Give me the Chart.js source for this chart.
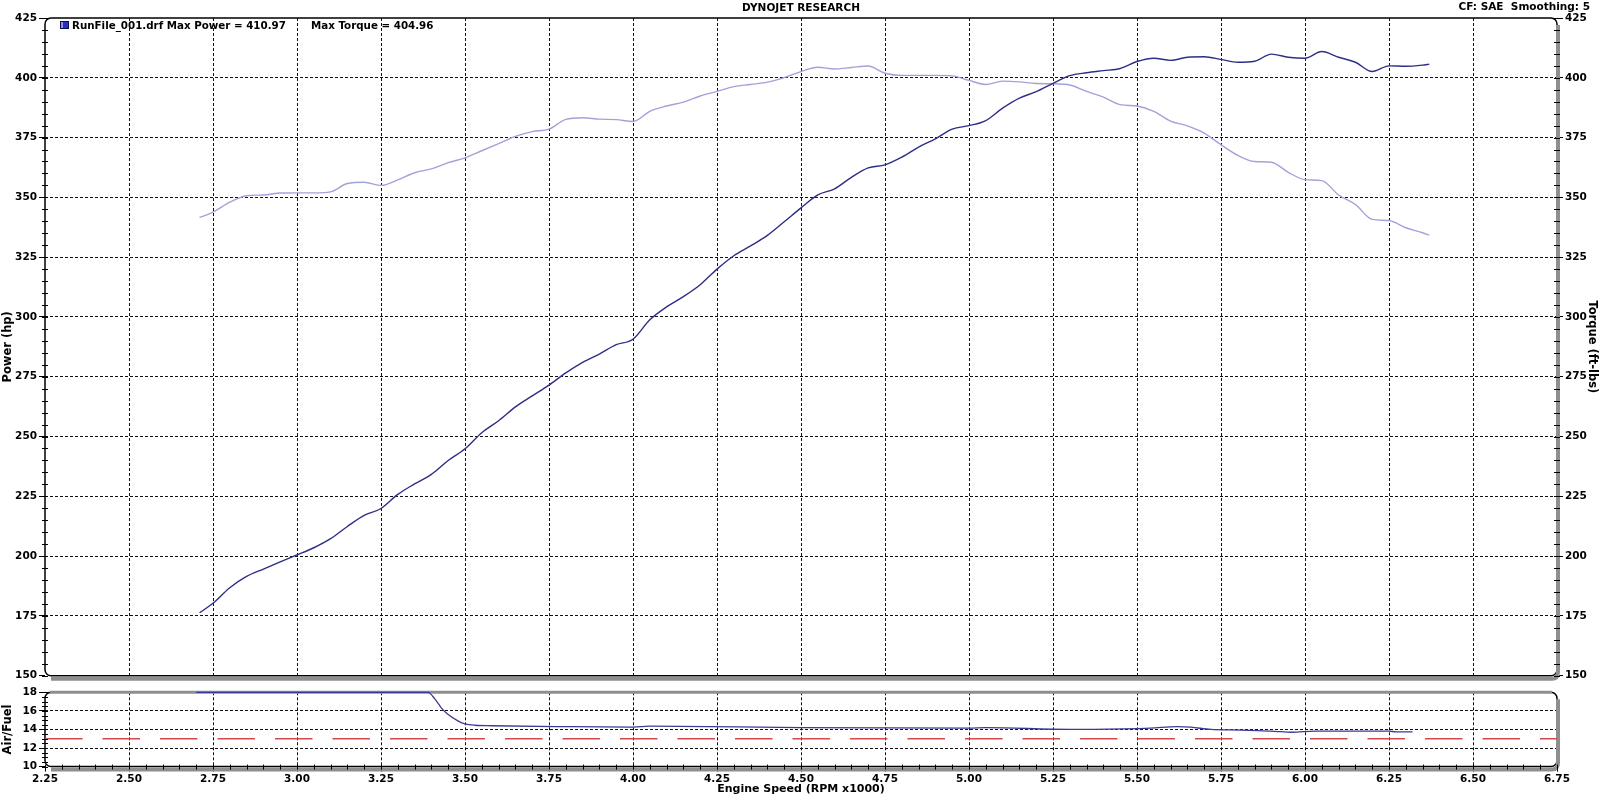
<!DOCTYPE html>
<html>
<head>
<meta charset="utf-8">
<title>Dynojet Research</title>
<script src="https://cdn.jsdelivr.net/npm/chart.js@4.4.1/dist/chart.umd.min.js"></script>
<style>
  html, body { margin: 0; padding: 0; background: #fff; overflow: hidden; }
  #wrap { position: relative; width: 1600px; height: 796px; }
  canvas { position: absolute; left: 0; }
  #main { top: 0; width: 1600px; height: 684px; }
  #af { top: 684px; width: 1600px; height: 112px; }
</style>
</head>
<body>
<div id="wrap">
  <canvas id="main" width="1600" height="684"></canvas>
  <canvas id="af" width="1600" height="112"></canvas>
</div>
<script>
// ─── DATOS ──────────────────────────────────────────────────────
const rpm = [
  2.71, 2.75, 2.80, 2.85, 2.90, 2.95, 3.00, 3.05, 3.10, 3.15,
  3.20, 3.25, 3.30, 3.35, 3.40, 3.45, 3.50, 3.55, 3.60, 3.65,
  3.70, 3.75, 3.80, 3.85, 3.90, 3.95, 4.00, 4.05, 4.10, 4.15,
  4.20, 4.25, 4.30, 4.35, 4.40, 4.45, 4.50, 4.55, 4.60, 4.65,
  4.70, 4.75, 4.80, 4.85, 4.90, 4.95, 5.00, 5.05, 5.10, 5.15,
  5.20, 5.25, 5.30, 5.35, 5.40, 5.45, 5.50, 5.55, 5.60, 5.65,
  5.70, 5.75, 5.80, 5.85, 5.90, 5.95, 6.00, 6.05, 6.10, 6.15,
  6.20, 6.25, 6.30, 6.35, 6.37,
];

const power = [
  176.3, 180.3, 186.8, 191.5, 194.6, 197.6, 200.5, 203.5, 207.3, 212.4,
  217.0, 219.9, 225.8, 230.2, 234.2, 240.0, 244.9, 251.6, 256.6, 262.4,
  267.0, 271.5, 276.6, 281.0, 284.5, 288.4, 290.7, 298.8, 304.2, 308.5,
  313.5, 320.0, 325.6, 329.7, 334.1, 339.8, 345.6, 351.0, 353.6, 358.4,
  362.3, 363.6, 366.8, 371.0, 374.5, 378.5, 380.0, 382.1, 387.3, 391.5,
  394.2, 397.7, 400.9, 402.1, 403.0, 403.9, 406.8, 408.2, 407.3, 408.6,
  408.8, 407.7, 406.5, 406.9, 409.9, 408.6, 408.2, 411.0, 408.6, 406.5,
  402.6, 405.0, 404.8, 405.3, 405.7,
];

const torque = [
  341.6, 343.8, 348.0, 350.7, 351.0, 351.8, 351.9, 351.9, 352.3, 355.8,
  356.3, 355.0, 357.3, 360.3, 361.9, 364.5, 366.5, 369.5, 372.5, 375.5,
  377.5, 378.5, 382.6, 383.3, 382.7, 382.5, 381.7, 386.0, 388.2, 389.8,
  392.4, 394.3, 396.3, 397.2, 398.2, 400.1, 402.6, 404.4, 403.7, 404.3,
  404.9, 401.9, 401.0, 401.0, 401.0, 400.8, 398.9, 397.2, 398.6, 398.3,
  397.6, 397.5, 397.0, 394.3, 391.9, 388.8, 388.2, 386.0, 381.9, 379.9,
  376.9, 372.0, 367.6, 365.0, 364.7, 360.5, 357.4, 357.0, 351.0, 347.0,
  340.8, 340.3, 337.3, 335.2, 334.2,
];

const afRpm = [
  2.70, 3.39, 3.41, 3.43, 3.45, 3.48, 3.50, 3.53, 3.58, 3.80,
  4.00, 4.05, 4.50, 5.00, 5.05, 5.30, 5.46, 5.54, 5.62, 5.66,
  5.72, 5.81, 5.91, 5.96, 6.03, 6.25, 6.27, 6.32,
];
const afRatio = [
  18.0, 18.0, 17.3, 16.3, 15.6, 14.9, 14.6, 14.45, 14.4, 14.3,
  14.25, 14.35, 14.2, 14.15, 14.2, 14.0, 14.07, 14.15, 14.3, 14.25,
  14.0, 13.93, 13.8, 13.7, 13.83, 13.83, 13.73, 13.73,
];
const afTarget = 13;

const rpmRange = [2.25, 6.75];
const powerRange = [150, 425];
const afRange = [10, 18];

const runLabel = "RunFile_001.drf Max Power = 410.97";
const torqueLabel = "Max Torque = 404.96";

// ─── ESTILO ─────────────────────────────────────────────────────
const C = {
  power:  "#2e2e86",
  torque: "#a2a2da",
  af:     "#3a3a98",
  target: "#d24a4a",
  grid:   "#111111",
  shadow: "#8e8e8e",
};
const FONT = "'DejaVu Sans', Verdana, sans-serif";
Chart.defaults.font.family = FONT;
Chart.defaults.color = "#000";

const tickFont = { size: 10.5, weight: "bold" };
const titleFont = { size: 11.5, weight: "bold" };
const noEdge = (lo, hi) => c => (c.tick && (c.tick.value === lo || c.tick.value === hi)) ? "rgba(0,0,0,0)" : C.grid;

// ─── PLUGINS ────────────────────────────────────────────────────
const panelFrame = {
  id: "panelFrame",
  beforeDatasetsDraw(chart, args, opts) {
    const { ctx, chartArea: a } = chart;
    ctx.save();
    ctx.strokeStyle = "#000";
    ctx.lineWidth = 1.5;
    ctx.beginPath();
    ctx.roundRect(a.left, a.top, a.right - a.left, a.bottom - a.top, 6);
    ctx.stroke();
    // sombra gris a la derecha y abajo
    ctx.strokeStyle = C.shadow;
    ctx.lineWidth = 4;
    ctx.beginPath();
    ctx.moveTo(a.right + 1, a.top + 7);
    ctx.lineTo(a.right + 1, a.bottom - 4);
    ctx.quadraticCurveTo(a.right + 1, a.bottom + 3, a.right - 5, a.bottom + 3);
    ctx.lineTo(a.left + 6, a.bottom + 3);
    ctx.stroke();
    if (opts.grayTop) {
      ctx.lineWidth = 3;
      ctx.beginPath();
      ctx.moveTo(a.left + 5, a.top);
      ctx.lineTo(a.right - 5, a.top);
      ctx.stroke();
    }
    ctx.restore();
  },
};

const minorTicks = {
  id: "minorTicks",
  afterDraw(chart, args, opts) {
    const ctx = chart.ctx;
    ctx.save();
    ctx.strokeStyle = "#000";
    ctx.lineWidth = 1;
    (opts.list || []).forEach(m => {
      const s = chart.scales[m.scale];
      const n = Math.round((s.max - s.min) / m.step);
      ctx.beginPath();
      for (let i = 0; i <= n; i++) {
        const p = Math.round(s.getPixelForValue(s.min + i * m.step)) + 0.5;
        if (m.side === "left") { ctx.moveTo(s.right - 3, p); ctx.lineTo(s.right + 3, p); }
        if (m.side === "right") { ctx.moveTo(s.left - 3, p); ctx.lineTo(s.left + 3, p); }
        if (m.side === "bottom") { ctx.moveTo(p, s.top - 2); ctx.lineTo(p, s.top + 3); }
      }
      ctx.stroke();
    });
    ctx.restore();
  },
};

const headerText = {
  id: "headerText",
  afterDraw(chart) {
    const { ctx, chartArea: a } = chart;
    ctx.save();
    ctx.font = "bold 10.5px " + FONT;
    ctx.fillStyle = "#000";
    ctx.textBaseline = "middle";
    ctx.textAlign = "center";
    ctx.fillText("DYNOJET RESEARCH", 801, 8);
    ctx.textAlign = "right";
    ctx.fillText("CF: SAE  Smoothing: 5", 1590, 7);
    // leyenda
    ctx.fillStyle = "#2c2cc8";
    ctx.fillRect(a.left + 15, a.top + 3, 9, 8);
    ctx.fillStyle = "#8f8ff0";
    ctx.fillRect(a.left + 16, a.top + 4, 2, 6);
    ctx.strokeStyle = "#10104a";
    ctx.lineWidth = 1;
    ctx.strokeRect(a.left + 15.5, a.top + 3.5, 8, 7);
    ctx.fillStyle = "#000";
    ctx.textAlign = "left";
    ctx.font = "bold 10.3px " + FONT;
    ctx.fillText(runLabel, a.left + 27, a.top + 8);
    ctx.fillText(torqueLabel, a.left + 266, a.top + 8);
    ctx.restore();
  },
};

// ─── GRÁFICA PRINCIPAL: POTENCIA / TORQUE ───────────────────────
new Chart(document.getElementById("main"), {
  type: "line",
  data: {
    datasets: [
      {
        label: "Power",
        data: rpm.map((x, i) => ({ x, y: power[i] })),
        yAxisID: "yP",
        borderColor: C.power,
        borderWidth: 1.4,
        pointRadius: 0,
        cubicInterpolationMode: "monotone",
      },
      {
        label: "Torque",
        data: rpm.map((x, i) => ({ x, y: torque[i] })),
        yAxisID: "yT",
        borderColor: C.torque,
        borderWidth: 1.4,
        pointRadius: 0,
        cubicInterpolationMode: "monotone",
      },
    ],
  },
  options: {
    responsive: false,
    animation: false,
    layout: { padding: { top: 18, left: 0, right: 0, bottom: 0 } },
    plugins: {
      legend: { display: false },
      tooltip: { enabled: false },
      minorTicks: { list: [{ scale: "yP", step: 5, side: "left" }, { scale: "yT", step: 5, side: "right" }] },
    },
    scales: {
      x: {
        type: "linear",
        min: rpmRange[0], max: rpmRange[1],
        ticks: { stepSize: 0.25, display: false },
        grid: { drawTicks: false, color: noEdge(rpmRange[0], rpmRange[1]) },
        border: { display: false, dash: [3, 2] },
        afterFit(s) { s.height = 6; },
      },
      yP: {
        position: "left",
        min: powerRange[0], max: powerRange[1],
        ticks: { stepSize: 25, padding: 2, font: tickFont },
        grid: { tickLength: 6, tickColor: "#000", color: noEdge(powerRange[0], powerRange[1]) },
        border: { display: false, dash: [3, 2] },
        title: { display: true, text: "Power (hp)", font: titleFont, padding: { top: 1 } },
        afterFit(s) { s.width = 45; },
      },
      yT: {
        position: "right",
        min: powerRange[0], max: powerRange[1],
        ticks: { stepSize: 25, padding: 2, font: tickFont },
        grid: { drawOnChartArea: false, tickLength: 6, tickColor: "#000" },
        border: { display: false },
        title: { display: true, text: "Torque (ft-lbs)", font: titleFont, padding: { top: 1 } },
        afterFit(s) { s.width = 43; },
      },
    },
  },
  plugins: [panelFrame, minorTicks, headerText],
});

// ─── PANEL AIRE/COMBUSTIBLE ─────────────────────────────────────
new Chart(document.getElementById("af"), {
  type: "line",
  data: {
    datasets: [
      {
        label: "Air/Fuel",
        data: afRpm.map((x, i) => ({ x, y: afRatio[i] })),
        yAxisID: "yA",
        borderColor: C.af,
        borderWidth: 1.3,
        pointRadius: 0,
        cubicInterpolationMode: "monotone",
        clip: false,
      },
      {
        label: "Target",
        data: rpmRange.map(x => ({ x, y: afTarget })),
        yAxisID: "yA",
        borderColor: C.target,
        borderWidth: 1.6,
        borderDash: [37.5, 20],
        pointRadius: 0,
      },
    ],
  },
  options: {
    responsive: false,
    animation: false,
    layout: { padding: { top: 4, left: 0, right: 0, bottom: 0 } },
    plugins: {
      legend: { display: false },
      tooltip: { enabled: false },
      panelFrame: { grayTop: true },
      minorTicks: { list: [{ scale: "yA", step: 0.5, side: "left" }, { scale: "x", step: 0.05, side: "bottom" }] },
    },
    scales: {
      x: {
        type: "linear",
        min: rpmRange[0], max: rpmRange[1],
        ticks: { stepSize: 0.25, padding: 1, font: tickFont, callback: v => v.toFixed(2), maxRotation: 0, autoSkip: false },
        grid: { tickLength: 5, tickColor: "#000", color: noEdge(rpmRange[0], rpmRange[1]) },
        border: { display: false, dash: [3, 2] },
        title: { display: true, text: "Engine Speed (RPM x1000)", font: { size: 11, weight: "bold" }, padding: 0 },
        afterFit(s) { s.height = 29.4; },
      },
      yA: {
        position: "left",
        min: afRange[0], max: afRange[1],
        ticks: { stepSize: 2, padding: 2, font: tickFont },
        grid: { tickLength: 6, tickColor: "#000", color: noEdge(afRange[0], afRange[1]) },
        border: { display: false, dash: [3, 2] },
        title: { display: true, text: "Air/Fuel", font: titleFont, padding: { top: 1 } },
        afterFit(s) { s.width = 45; },
      },
      yR: {
        position: "right",
        min: afRange[0], max: afRange[1],
        ticks: { display: false },
        grid: { drawOnChartArea: false, drawTicks: false },
        border: { display: false },
        afterFit(s) { s.width = 43; },
      },
    },
  },
  plugins: [panelFrame, minorTicks],
});
</script>
</body>
</html>
